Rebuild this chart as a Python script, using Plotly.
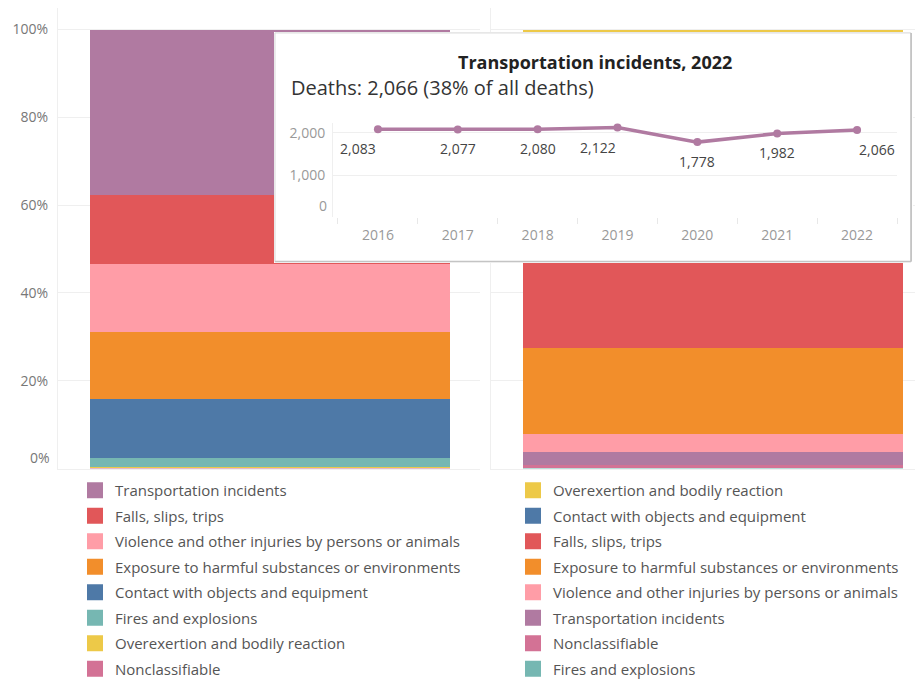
import plotly.graph_objects as go

W, H = 915, 679

# ---------------- data ----------------
left_categories = [
    "Transportation incidents",
    "Falls, slips, trips",
    "Violence and other injuries by persons or animals",
    "Exposure to harmful substances or environments",
    "Contact with objects and equipment",
    "Fires and explosions",
    "Overexertion and bodily reaction",
    "Nonclassifiable",
]
deaths_2022 = [2066, 865, 849, 839, 738, 107, 15, 7]

right_categories = [
    "Overexertion and bodily reaction",
    "Contact with objects and equipment",
    "Falls, slips, trips",
    "Exposure to harmful substances or environments",
    "Violence and other injuries by persons or animals",
    "Transportation incidents",
    "Nonclassifiable",
    "Fires and explosions",
]
injury_share_2022 = [28.0, 21.5, 23.1, 19.6, 4.0, 3.0, 0.7, 0.1]

years = ["2016", "2017", "2018", "2019", "2020", "2021", "2022"]
transport_deaths = [2083, 2077, 2080, 2122, 1778, 1982, 2066]

pct_ticks = [0, 20, 40, 60, 80, 100]
pct_labels = ["0%", "20%", "40%", "60%", "80%", "100%"]
count_ticks = [0, 1000, 2000]
count_labels = ["0", "1,000", "2,000"]

# ---------------- styles ----------------
colors = {
    "Transportation incidents": "#b07aa1",
    "Falls, slips, trips": "#e15759",
    "Violence and other injuries by persons or animals": "#ff9da7",
    "Exposure to harmful substances or environments": "#f28e2b",
    "Contact with objects and equipment": "#4e79a7",
    "Fires and explosions": "#76b7b2",
    "Overexertion and bodily reaction": "#edc948",
    "Nonclassifiable": "#d37295",
}
label_anchor = ["right", "center", "center", "right", "center", "center", "left"]
FONT = "Open Sans"


def fx(p):
    return p / W


def fy(p):
    return 1 - p / H


fig = go.Figure()

# stacked bars (bottom segment first)
for cat, val in reversed(list(zip(left_categories, deaths_2022))):
    fig.add_trace(go.Bar(x=["Deaths"], y=[val], name=cat, marker_color=colors[cat],
                         marker_line_width=0, width=1, showlegend=False,
                         xaxis="x", yaxis="y", hoverinfo="skip"))
for cat, val in reversed(list(zip(right_categories, injury_share_2022))):
    fig.add_trace(go.Bar(x=["Injuries"], y=[val], name=cat, marker_color=colors[cat],
                         marker_line_width=0, width=1, showlegend=False,
                         xaxis="x2", yaxis="y2", hoverinfo="skip"))

# legend entries
for i, cat in enumerate(left_categories):
    fig.add_trace(go.Scatter(x=[None], y=[None], mode="markers", name=cat,
                             marker=dict(symbol="square", size=16, color=colors[cat]),
                             legend="legend", legendgroup="L%d" % i,
                             xaxis="x", yaxis="y"))
for i, cat in enumerate(right_categories):
    fig.add_trace(go.Scatter(x=[None], y=[None], mode="markers", name=cat,
                             marker=dict(symbol="square", size=16, color=colors[cat]),
                             legend="legend2", legendgroup="R%d" % i,
                             xaxis="x2", yaxis="y2"))

# tooltip line chart
fig.add_trace(go.Scatter(
    x=years, y=transport_deaths, xaxis="x4", yaxis="y4",
    mode="lines+markers",
    line=dict(color="#b07aa1", width=3.5),
    marker=dict(size=8, color="#b07aa1"),
    cliponaxis=False, showlegend=False, hoverinfo="skip",
))

# value labels: x given as category index on the category axis
value_labels = [
    dict(text=f"{v:,}", xref="x4", yref="y4", x=i, y=v, xanchor=anc,
         yanchor="top", yshift=-8, showarrow=False,
         font=dict(family=FONT, size=14, color="#444444"))
    for i, (v, anc) in enumerate(zip(transport_deaths, label_anchor))
]

grid = "#efefef"
bar_y = dict(range=[0, 104.9], domain=[fy(468.5), fy(8)], tickvals=pct_ticks,
             ticktext=[""] + pct_labels[1:], showgrid=True, gridcolor=grid,
             gridwidth=1, zeroline=False, showline=True, linecolor=grid,
             ticks="", ticklabelstandoff=6,
             tickfont=dict(family=FONT, size=14, color="#777777"))

fig.update_layout(
    width=W, height=H,
    margin=dict(l=0, r=0, t=0, b=0, autoexpand=False),
    paper_bgcolor="white", plot_bgcolor="white",
    barmode="stack", barnorm="percent", bargap=0,
    font=dict(family=FONT),
    xaxis=dict(domain=[fx(58), fx(480)], anchor="y",
               range=[-0.5 - 32 / 360, 0.5 + 30 / 360],
               showticklabels=False, showgrid=False, zeroline=False,
               showline=True, linecolor=grid, ticks=""),
    yaxis=dict(anchor="x", **bar_y),
    xaxis2=dict(domain=[fx(491), 1.0], anchor="y2",
                range=[-0.5 - 32 / 380, 0.5 + 12 / 380],
                showticklabels=False, showgrid=False, zeroline=False,
                showline=True, linecolor=grid, ticks=""),
    yaxis2=dict(anchor="x2", **{**bar_y, "showticklabels": False}),
    xaxis3=dict(domain=[fx(274), fx(913)], anchor="y3", range=[0, 1], visible=False),
    yaxis3=dict(domain=[fy(263), fy(32)], anchor="x3", range=[0, 1], visible=False),
    xaxis4=dict(domain=[fx(333), fx(897)], anchor="y4", type="category",
                range=[-0.5625, 6.5], showgrid=False, zeroline=False,
                showline=False, ticks="outside", tickson="boundaries",
                ticklen=6, tickcolor="#e8e8e8", ticklabelstandoff=8,
                tickfont=dict(family=FONT, size=14, color="#999999")),
    yaxis4=dict(domain=[fy(217.3), fy(123)], anchor="x4", range=[0, 2230],
                tickvals=count_ticks, ticktext=[""] + count_labels[1:],
                showgrid=True, gridcolor=grid, zeroline=False,
                showline=True, linecolor=grid, ticks="", ticklabelstandoff=4,
                tickfont=dict(family=FONT, size=14, color="#999999")),
    legend=dict(x=fx(75), xanchor="left", y=fy(474), yanchor="top",
                font=dict(family=FONT, size=15, color="#555555"),
                bgcolor="rgba(0,0,0,0)", tracegroupgap=3, itemclick=False),
    legend2=dict(x=fx(513), xanchor="left", y=fy(474), yanchor="top",
                 font=dict(family=FONT, size=15, color="#555555"),
                 bgcolor="rgba(0,0,0,0)", tracegroupgap=3, itemclick=False),
    shapes=[
        dict(type="rect", xref="x3", yref="y3", x0=0.0015, x1=0.997,
             y0=0.006, y1=0.996, fillcolor="white",
             line=dict(color="#d6d6d6", width=1), layer="below"),
        dict(type="line", xref="x3", yref="y3", x0=0.997, x1=0.997,
             y0=0.006, y1=0.996, line=dict(color="#bdbdbd", width=1.5), layer="below"),
        dict(type="line", xref="x3", yref="y3", x0=0.0015, x1=0.997,
             y0=0.006, y1=0.006, line=dict(color="#c4c4c4", width=1.5), layer="below"),
    ],
    annotations=[
        dict(text=pct_labels[0], xref="x domain", x=0, xanchor="right", xshift=-6,
             yref="y", y=0, yanchor="bottom", showarrow=False,
             font=dict(family=FONT, size=14, color="#777777")),
        dict(text=count_labels[0], xref="x4 domain", x=0, xanchor="right", xshift=-4,
             yref="y4", y=0, yanchor="bottom", showarrow=False,
             font=dict(family=FONT, size=14, color="#999999")),
        dict(text=f"<b>{left_categories[0]}, {years[-1]}</b>", xref="paper", yref="paper",
             x=fx(595), y=fy(61.7), xanchor="center", yanchor="middle", showarrow=False,
             font=dict(family=FONT, size=18, color="#222222")),
        dict(text=f"Deaths: {deaths_2022[0]:,} ({round(100 * deaths_2022[0] / sum(deaths_2022))}% of all deaths)",
             xref="paper", yref="paper", x=fx(289), y=fy(88), xanchor="left",
             yanchor="middle", showarrow=False,
             font=dict(family=FONT, size=20, color="#333333")),
    ] + value_labels,
)

fig.write_html("out.html", config={"displayModeBar": False},
               post_script="document.body.style.margin='0';")
